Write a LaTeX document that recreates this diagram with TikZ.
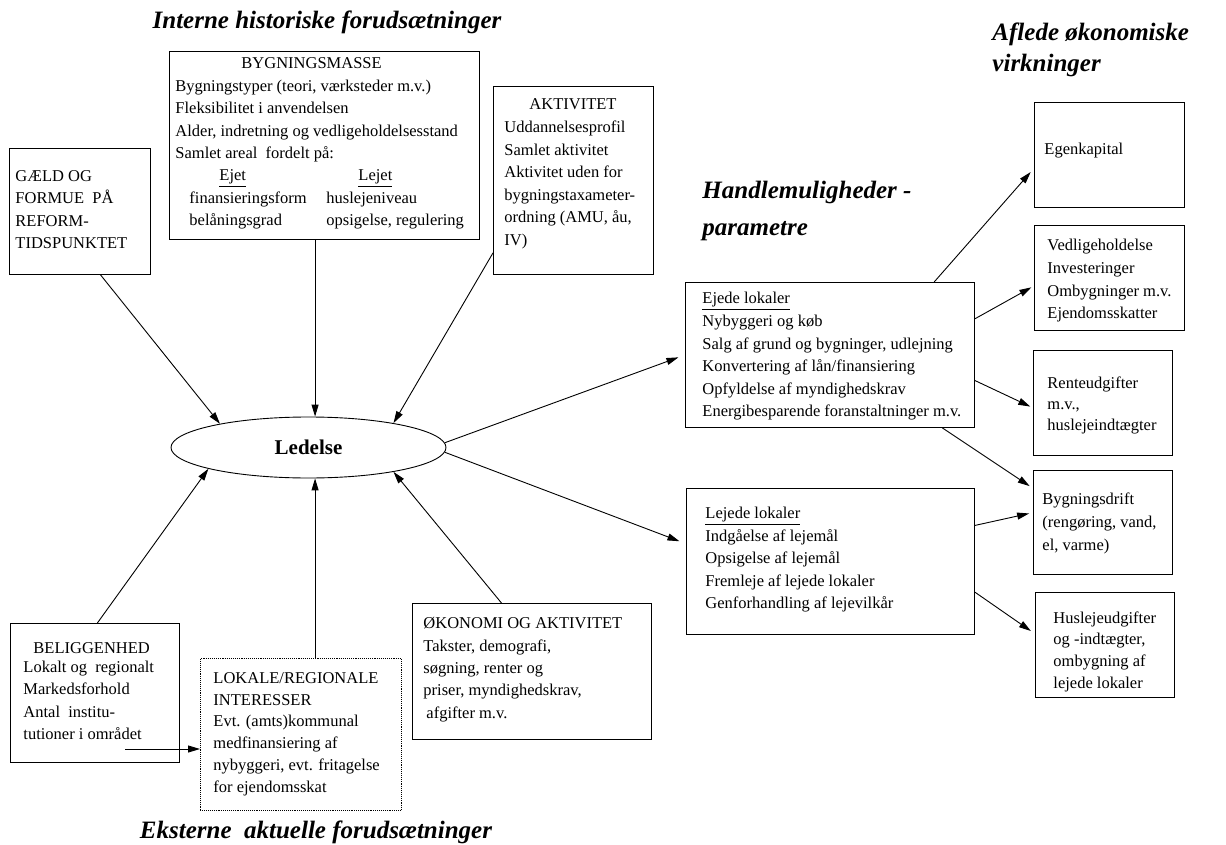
\documentclass[tikz,border=0pt]{standalone}
\usepackage{fontspec}
\setmainfont{Liberation Serif}
\usetikzlibrary{shapes.geometric, arrows.meta}

\begin{document}
\begin{tikzpicture}[x=1pt, y=-1pt, line width=0.9pt, >={Triangle[length=12pt, width=7pt]},
  box/.style = {draw, rectangle, inner sep=0pt, anchor=north west},
  txt/.style = {inner sep=0pt, anchor=north west, align=left, font=\fontsize{16.5}{22.4}\selectfont},
  head/.style = {inner sep=0pt, align=left, font=\fontsize{25}{31}\selectfont\bfseries\itshape}]
\useasboundingbox (0,0) rectangle (1226,845);

\node[head, anchor=base] (intern) at (327,29) {Interne historiske forudsætninger};
\node[head, anchor=north west] (afledt) at (992,22) {Aflede økonomiske\\virkninger};
\node[head, anchor=north west] (handle) at (702,181) {Handlemuligheder -\\[6pt]parametre};
\node[head, anchor=base] (ekstern) at (316,838) {Eksterne~ aktuelle forudsætninger};

\node[draw, ellipse, minimum width=275, minimum height=61, inner sep=0pt, font=\fontsize{21}{24}\selectfont\bfseries] (ledelse) at (308.5,447.5) {Ledelse};

\node[box, minimum width=141, minimum height=126] (gaeld) at (9,148) {};
\node[box, minimum width=310, minimum height=188] (bygning) at (169,51) {};
\node[box, minimum width=160, minimum height=188] (aktivitet) at (493,86) {};
\node[box, minimum width=169, minimum height=139] (belig) at (10,623) {};
\node[box, minimum width=201, minimum height=152, densely dotted] (lokale) at (200,658) {};
\node[box, minimum width=239, minimum height=136] (okonomi) at (412,603) {};
\node[box, minimum width=289, minimum height=145] (ejede) at (685,282) {};
\node[box, minimum width=288, minimum height=146] (lejede) at (686,488) {};
\node[box, minimum width=150, minimum height=105] (egenkapital) at (1034,102) {};
\node[box, minimum width=150, minimum height=105] (vedlige) at (1034,225) {};
\node[box, minimum width=139, minimum height=105] (rente) at (1033,350) {};
\node[box, minimum width=139, minimum height=104] (drift) at (1033,470) {};
\node[box, minimum width=139, minimum height=105] (husleje) at (1035,592) {};

\node[txt] (gaeld-t) at (15,170) {GÆLD OG\\ FORMUE~ PÅ\\ REFORM-\\ TIDSPUNKTET};
\node[txt] (bygning-t) at (175,57.5) {\hspace*{66pt}BYGNINGSMASSE\\
  Bygningstyper (teori, værksteder m.v.)\\
  Fleksibilitet i anvendelsen\\
  Alder, indretning og vedligeholdelsesstand\\
  Samlet areal~ fordelt på:\\
  \makebox[151pt][l]{\hspace*{44pt}\underline{Ejet}}\hspace*{32pt}\underline{Lejet}\\
  \makebox[151pt][l]{\hspace*{14pt}finansieringsform}huslejeniveau\\
  \makebox[151pt][l]{\hspace*{14pt}belåningsgrad}opsigelse, regulering};
\node[txt, font=\fontsize{16.5}{22.6}\selectfont] (aktivitet-t) at (504,98.5) {\hspace*{25pt}AKTIVITET\\ Uddannelsesprofil\\ Samlet aktivitet\\ Aktivitet uden for\\ bygningstaxameter-\\ ordning (AMU, åu,\\ IV)};
\node[txt] (belig-t) at (23,642) {\hspace*{10pt}BELIGGENHED\\[-3.4pt] Lokalt og~ regionalt\\ Markedsforhold\\ Antal~ institu-\\ tutioner i området};
\node[txt, font=\fontsize{16.5}{21.8}\selectfont] (lokale-t) at (213,672) {LOKALE/REGIONALE\\ INTERESSER\\ Evt. (amts)kommunal\\ medfinansiering af\\ nybyggeri, evt. fritagelse\\ for ejendomsskat};
\node[txt] (okonomi-t) at (423,617) {ØKONOMI OG AKTIVITET\\ Takster, demografi,\\ søgning, renter og\\ priser, myndighedskrav,\\ \hspace*{3pt}afgifter m.v.};
\node[txt, font=\fontsize{16.5}{22.6}\selectfont] (ejede-t) at (702,292) {\underline{Ejede lokaler}\\ Nybyggeri og køb\\ Salg af grund og bygninger, udlejning\\ Konvertering af lån/finansiering\\ Opfyldelse af myndighedskrav\\ Energibesparende foranstaltninger m.v.};
\node[txt, font=\fontsize{16.5}{22.5}\selectfont] (lejede-t) at (705,507) {\underline{Lejede lokaler}\\ Indgåelse af lejemål\\ Opsigelse af lejemål\\ Fremleje af lejede lokaler\\ Genforhandling af lejevilkår};
\node[txt] (egenkapital-t) at (1044,143) {Egenkapital};
\node[txt, font=\fontsize{16.5}{22.7}\selectfont] (vedlige-t) at (1047,239) {Vedligeholdelse\\ Investeringer\\ Ombygninger m.v.\\ Ejendomsskatter};
\node[txt, font=\fontsize{16.5}{21}\selectfont] (rente-t) at (1047,376) {Renteudgifter\\ m.v.,\\ huslejeindtægter};
\node[txt, font=\fontsize{16.5}{23}\selectfont] (drift-t) at (1042,492) {Bygningsdrift\\ (rengøring, vand,\\ el, varme)};
\node[txt, font=\fontsize{16.5}{21.7}\selectfont] (husleje-t) at (1053,611) {Huslejeudgifter\\ og -indtægter,\\ ombygning af\\ lejede lokaler};

\coordinate (b1) at (125,749);

\draw[->] (gaeld.288) -- (ledelse.165);
\draw[->] (bygning.south -| ledelse.78) -- (ledelse.78);
\draw[->] (aktivitet.222) -- (ledelse.16);
\draw[->] (belig.88) -- (ledelse.192);
\draw[->] (lokale.north -| ledelse.282) -- (ledelse.282);
\draw[->] (okonomi.114) -- (ledelse.344);
\draw[->] (b1) -- (b1 -| lokale.west);
\draw[->, shorten >=7pt] (ledelse.2) -- (ejede.west);
\draw[->, shorten >=7pt] (ledelse.-2) -- (lejede.173);
\draw[->, shorten >=5pt] (ejede.35) -- (egenkapital.190);
\draw[->, shorten >=3pt] (ejede.14) -- (vedlige.186);
\draw[->, shorten >=3pt] (ejede.-10) -- (rente.184);
\draw[->, shorten >=4pt] (ejede.-33) -- (drift.154);
\draw[->, shorten >=4pt] (lejede.14) -- (drift.172);
\draw[->, shorten >=5pt] (lejede.-12) -- (husleje.171);
\end{tikzpicture}
\end{document}
